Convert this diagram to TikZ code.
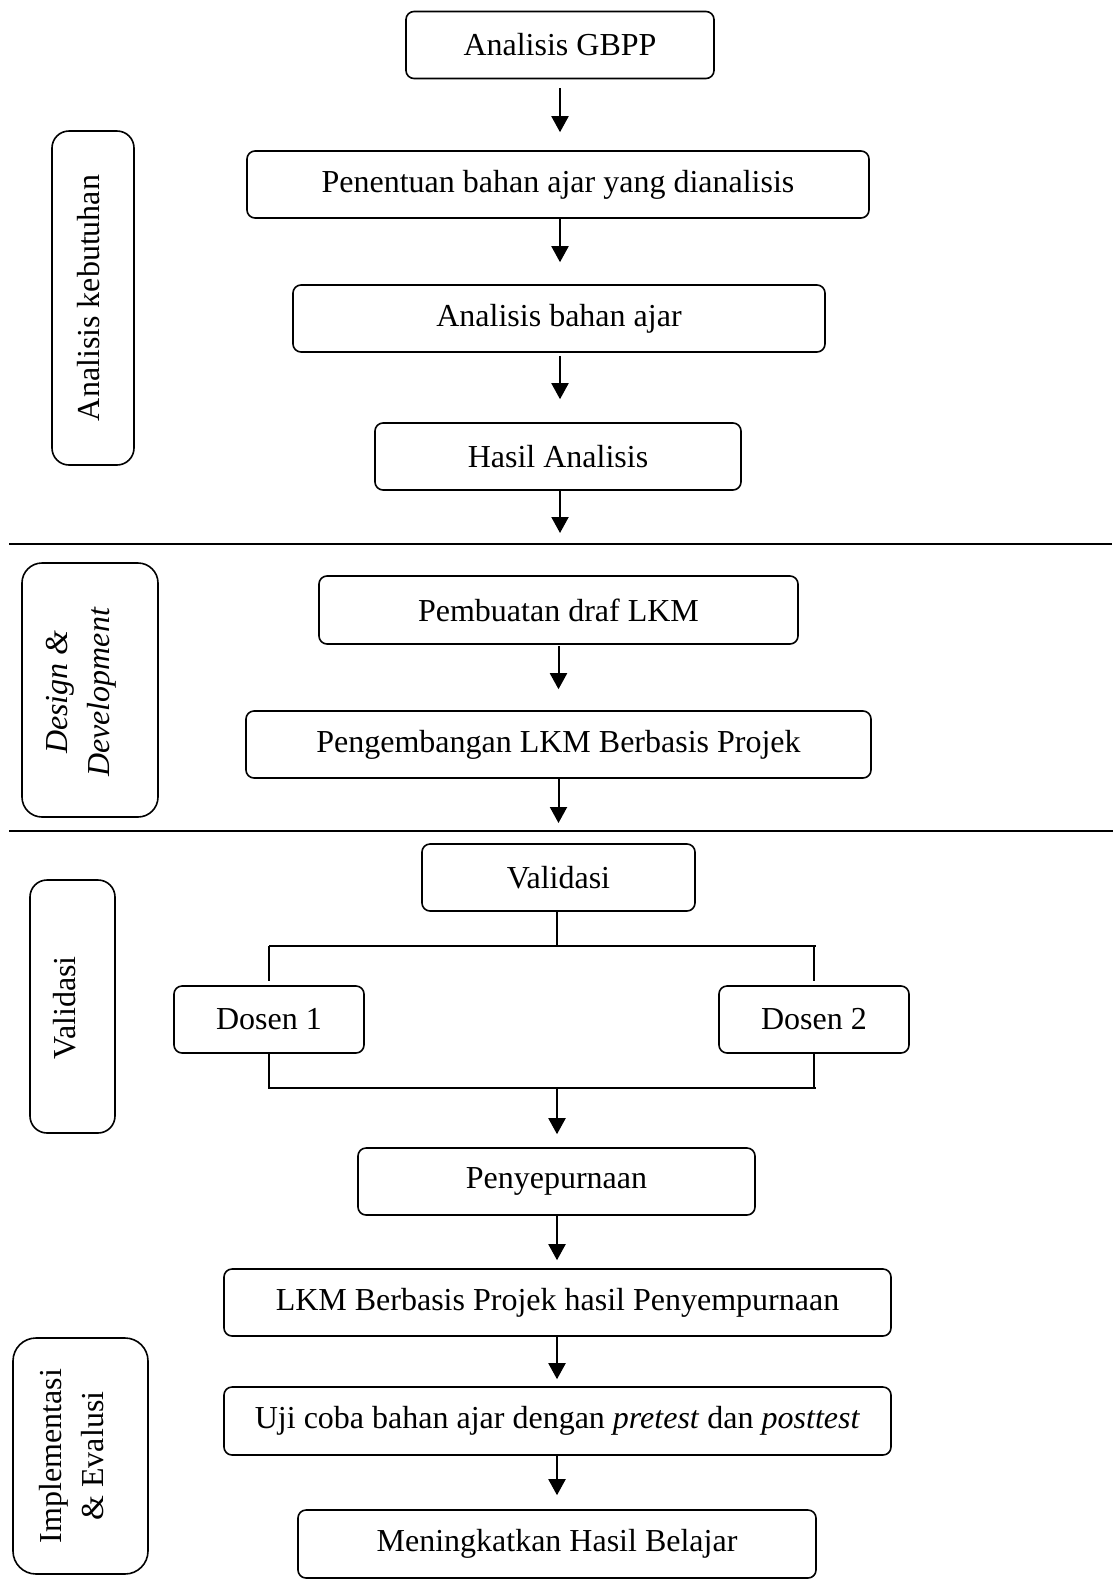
\documentclass[tikz,border=0pt]{standalone}
\usepackage{fontspec}
\setmainfont{Liberation Serif}
\usetikzlibrary{arrows.meta}
\begin{document}
\begin{tikzpicture}[x=1pt,y=-1pt,
  every node/.style={font=\fontsize{32}{42}\selectfont},
  stepbox/.style={draw,line width=1.6pt,rounded corners=8pt,minimum height=67pt,inner sep=0pt,align=center},
  sidebox/.style={draw,line width=1.6pt,rotate=90,inner sep=0pt},
  sidetext/.style={rotate=90,inner sep=0pt,align=center},
  arr/.style={line width=2pt,-{Triangle[width=17pt,length=16pt]}},
  sep/.style={line width=1.5pt},
  branch/.style={line width=1.3pt}]
\useasboundingbox (0,0) rectangle (1117,1580);
% main steps
\node[stepbox,minimum width=308pt] (gbpp) at (560,45) {Analisis GBPP};
\node[stepbox,minimum width=622pt] (pen) at (558,184.5) {Penentuan bahan ajar yang dianalisis};
\node[stepbox,minimum width=532pt] (aba) at (559,318.5) {Analisis bahan ajar};
\node[stepbox,minimum width=366pt] (hasil) at (558,456.5) {Hasil Analisis};
\node[stepbox,minimum width=479pt,minimum height=68pt] (draf) at (558.5,610) {Pembuatan draf LKM};
\node[stepbox,minimum width=625pt] (kemb) at (558.5,744.5) {Pengembangan LKM Berbasis Projek};
\node[stepbox,minimum width=273pt] (val) at (558.5,877.5) {Validasi};
\node[stepbox,minimum width=190pt] (d1) at (269,1019.5) {Dosen 1};
\node[stepbox,minimum width=190pt] (d2) at (814,1019.5) {Dosen 2};
\node[stepbox,minimum width=397pt] (peny) at (556.5,1181.5) {Penyepurnaan};
\node[stepbox,minimum width=667pt] (lkm) at (557.5,1302.5) {LKM Berbasis Projek hasil Penyempurnaan};
\node[stepbox,minimum width=667pt,minimum height=68pt] (uji) at (557.5,1421) {Uji coba bahan ajar dengan \textit{pretest} dan \textit{posttest}};
\node[stepbox,minimum width=518pt,minimum height=68pt] (ning) at (557,1544) {Meningkatkan Hasil Belajar};
% side boxes
\node[sidebox,rounded corners=17pt,minimum width=334pt,minimum height=82pt] (sa) at (93,298) {};
\node[sidetext] (sat) at (89,298) {Analisis kebutuhan};
\node[sidebox,rounded corners=20pt,minimum width=254pt,minimum height=136pt] (sd) at (90,690) {};
\node[sidetext] (sdt) at (81,692) {\textit{Design \&}\\\textit{Development}};
\node[sidebox,rounded corners=17pt,minimum width=253pt,minimum height=85pt] (sv) at (72.5,1006.5) {};
\node[sidetext] (svt) at (65,1008) {Validasi};
\node[sidebox,rounded corners=23pt,minimum width=236pt,minimum height=135pt] (si) at (80.5,1456) {};
\node[sidetext] (sit) at (72,1456) {Implementasi\\\& Evalusi};
% separators
\coordinate (l1a) at (9,544); \coordinate (l1b) at (1112,544);
\coordinate (l2a) at (9,831); \coordinate (l2b) at (1113,831);
\draw[sep] (l1a) -- (l1b);
\draw[sep] (l2a) -- (l2b);
% arrows
\draw[arr,shorten <=9pt,shorten >=18pt] (gbpp.south) -- (gbpp.south |- pen.north);
\draw[arr,shorten >=22pt] (gbpp.south |- pen.south) -- (gbpp.south |- aba.north);
\draw[arr,shorten <=3pt,shorten >=23pt] (gbpp.south |- aba.south) -- (gbpp.south |- hasil.north);
\draw[arr,shorten >=11pt] (gbpp.south |- hasil.south) -- (gbpp.south |- l1a);
\draw[arr,shorten <=1pt,shorten >=21pt] (draf.south) -- (draf.south |- kemb.north);
\draw[arr,shorten >=8pt] (draf.south |- kemb.south) -- (draf.south |- l2a);
% branch
\coordinate (bt) at (557,946);
\coordinate (bb) at (557,1088);
\draw[branch] (val.south -| bt) -- (bt);
\draw[branch] (d1.north |- bt) -- ([xshift=2pt]d2.north |- bt);
\draw[branch] (d1.north |- bt) -- ([yshift=4pt]d1.north);
\draw[branch] (d2.north |- bt) -- ([yshift=4pt]d2.north);
\draw[branch] (d1.south) -- (d1.south |- bb) -- ([xshift=2pt]d2.south |- bb);
\draw[branch] (d2.south) -- (d2.south |- bb);
\draw[arr,shorten >=13pt] (bb) -- (bb |- peny.north);
\draw[arr,shorten >=8pt] (bb |- peny.south) -- (bb |- lkm.north);
\draw[arr,shorten >=7pt] (bb |- lkm.south) -- (bb |- uji.north);
\draw[arr,shorten >=14pt] (bb |- uji.south) -- (bb |- ning.north);
\end{tikzpicture}
\end{document}
